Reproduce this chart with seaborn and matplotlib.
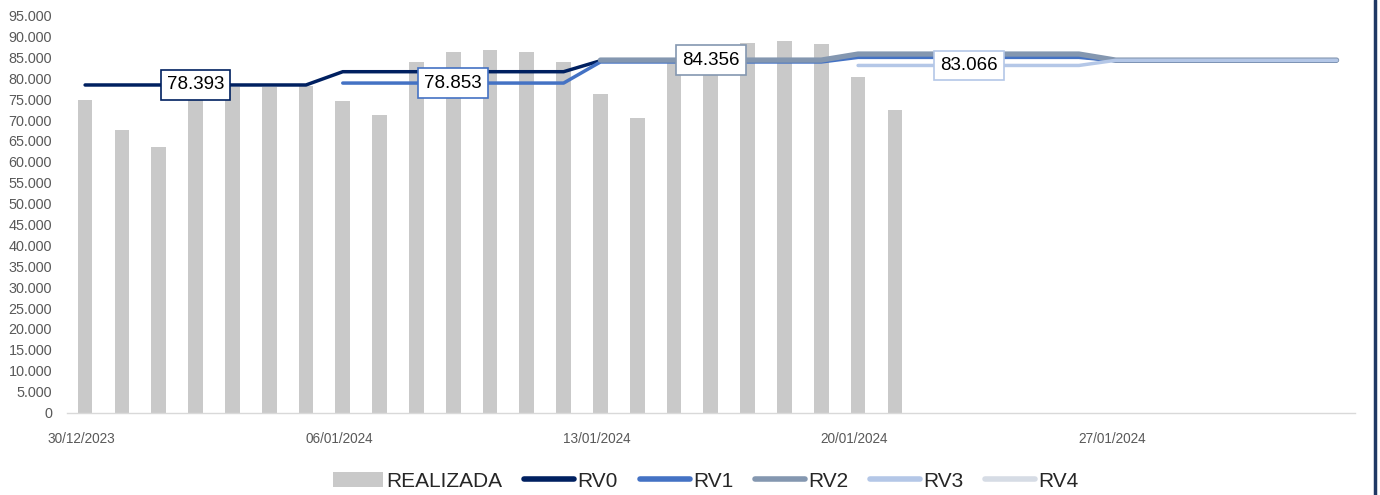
import matplotlib
matplotlib.use("Agg")
import matplotlib.pyplot as plt
import seaborn as sns
import numpy as np
import pandas as pd
from matplotlib.lines import Line2D
from matplotlib.patches import Patch

# ---------------- data ----------------
tick_labels = ["30/12/2023", "06/01/2024", "13/01/2024", "20/01/2024", "27/01/2024", ""]
tick_days = [0, 7, 14, 21, 28, 35]
n_days = 35

# daily realised load (30/12/2023 .. 21/01/2024)
realizada = [74800, 67700, 63600, 77000, 78000, 78000, 78200,
             74600, 71300, 83900, 86200, 86800, 86200, 84000,
             76300, 70400, 84000, 87000, 88500, 88900, 88200,
             80300, 72500]

# weekly forecasts per revision (operating weeks starting 30/12, 06/01, 13/01, 20/01, 27/01)
rv0 = [78393, 81570, 84200, 85200, 84200]
rv1 = [None, 78853, 83900, 85000, 84200]
rv2 = [None, None, 84356, 85800, 84350]
rv3 = [None, None, None, 83066, 84300]
rv4 = [None, None, None, None, None]

series_names = ["RV0", "RV1", "RV2", "RV3", "RV4"]
series_weekly = [rv0, rv1, rv2, rv3, rv4]
series_colors = ["#002060", "#4472C4", "#8497B0", "#B4C7E7", "#D6DCE5"]
series_widths = [2.5, 2.5, 3.8, 2.5, 2.5]

# value labels: (series index, week index, day position)
label_specs = [(0, 0, 3), (1, 1, 10), (2, 2, 17), (3, 3, 24)]

# ---------------- style ----------------
sns.set_theme(style="white")
plt.rcParams["font.family"] = ["Liberation Sans", "DejaVu Sans"]

fig = plt.figure(figsize=(13.8, 4.95), dpi=100)
ax = fig.add_axes([66.7 / 1380, 1 - 412.5 / 495, (1355 - 66.7) / 1380, (412.5 - 15.6) / 495])

# bars
bar_df = pd.DataFrame({"x": np.arange(len(realizada)) + 0.5, "v": realizada})
sns.barplot(data=bar_df, x="x", y="v", native_scale=True, color="#C9C9C9",
            saturation=1, width=0.4, linewidth=0, ax=ax, zorder=1)

# lines
for name, weekly, col, lw in zip(series_names, series_weekly, series_colors, series_widths):
    xs, ys = [], []
    for w, val in enumerate(weekly):
        if val is None:
            continue
        for d in range(7):
            xs.append(w * 7 + d + 0.5)
            ys.append(val)
    if not xs:
        continue
    ldf = pd.DataFrame({"x": xs, "v": ys})
    sns.lineplot(data=ldf, x="x", y="v", color=col, linewidth=lw, sort=False,
                 estimator=None, ax=ax, zorder=3,
                 solid_capstyle="round", solid_joinstyle="round")

# value boxes
for si, wi, day in label_specs:
    val = series_weekly[si][wi]
    txt = f"{val / 1000:.3f}"
    ax.text(day + 0.5, val, txt, ha="center", va="center", fontsize=13.5,
            color="black", zorder=5,
            bbox=dict(boxstyle="square,pad=0.33", fc="white", ec=series_colors[si], lw=1.2))

# axes
ax.set_xlim(0, n_days)
ax.set_ylim(0, 95000)
yticks = list(range(0, 95001, 5000))
ax.set_yticks(yticks)
ax.set_yticklabels([f"{v:,.0f}".replace(",", ".") for v in yticks])
ax.tick_params(axis="y", length=0, pad=10.5, labelsize=10.4, labelcolor="#595959")

ax.set_xticks(tick_days)
ax.set_xticklabels([""] * len(tick_days))
ax.tick_params(axis="x", which="major", length=5, width=1, color="#D9D9D9", direction="out")
ax.set_xticks([d + 0.4 for d in tick_days[:-1]], minor=True)
ax.set_xticklabels(tick_labels[:-1], minor=True)
ax.tick_params(axis="x", which="minor", length=0, pad=14, labelsize=9.8, labelcolor="#595959")

ax.set_xlabel("")
ax.set_ylabel("")
for s in ["left", "right", "top"]:
    ax.spines[s].set_visible(False)
ax.spines["bottom"].set_color("#D9D9D9")
ax.spines["bottom"].set_linewidth(1)
ax.grid(False)
if ax.get_legend():
    ax.get_legend().remove()

# legend
handles = [Patch(facecolor="#C9C9C9", edgecolor="none")]
for col in series_colors:
    handles.append(Line2D([0], [0], color=col, lw=4, solid_capstyle="round"))
fig.legend(handles, ["REALIZADA"] + series_names, loc="center", ncol=6,
           bbox_to_anchor=(0.5116, 0.028), frameon=False, fontsize=15,
           handlelength=2.4, handletextpad=0.15, columnspacing=1.05, handleheight=0.75)

# right frame border
fig.add_artist(Line2D([0.9966, 0.9966], [0, 1], transform=fig.transFigure,
                      color="#1F3864", lw=2.5))

fig.savefig("out.png", dpi=100)
